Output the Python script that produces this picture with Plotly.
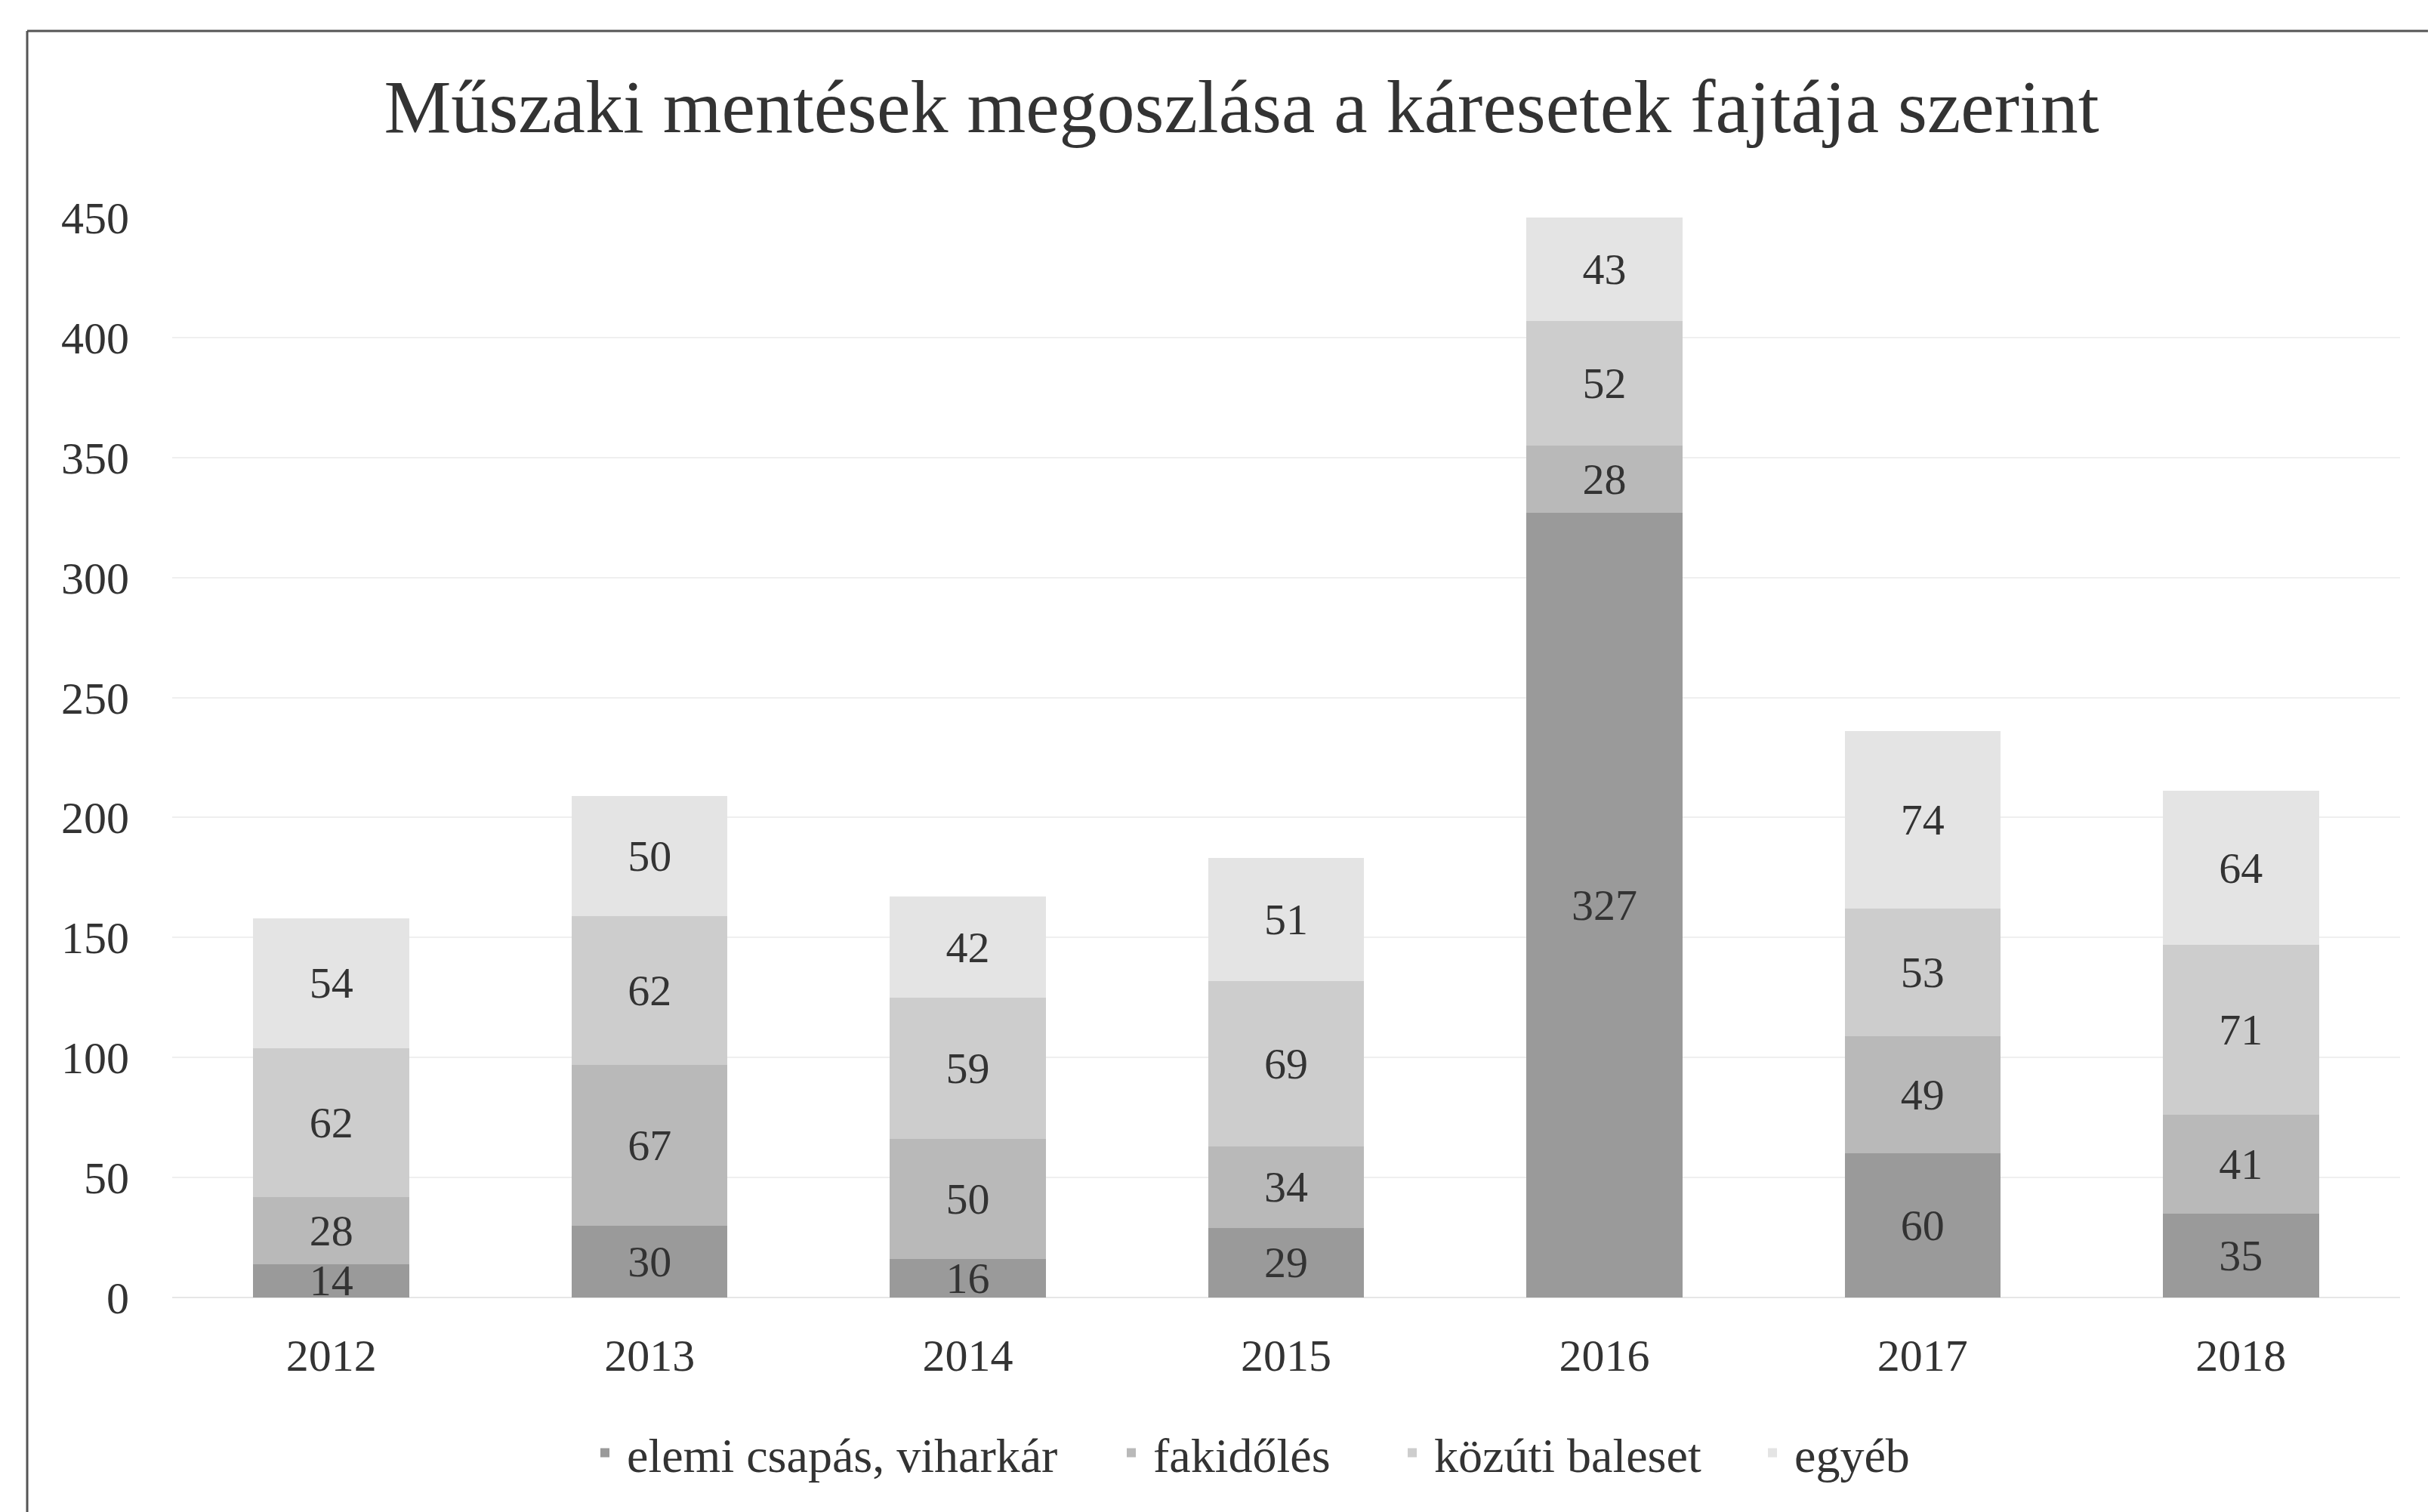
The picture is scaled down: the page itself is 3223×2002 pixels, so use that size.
import plotly.graph_objects as go

years = ["2012", "2013", "2014", "2015", "2016", "2017", "2018"]
elemi = [14, 30, 16, 29, 327, 60, 35]
fakidoles = [28, 67, 50, 34, 28, 49, 41]
kozuti = [62, 62, 59, 69, 52, 53, 71]
egyeb = [54, 50, 42, 51, 43, 74, 64]
series_names = ["elemi csapás, viharkár", "fakidőlés", "közúti baleset", "egyéb"]
y_ticks = [0, 50, 100, 150, 200, 250, 300, 350, 400, 450]

colors = ["#9a9a9a", "#b9b9b9", "#cdcdcd", "#e4e4e4"]
FONT = "Liberation Serif"
W, H = 3223, 2002
L, R, T, B = 220, 53, 280, 292
legend_ids = ["legend", "legend2", "legend3", "legend4"]
legend_x = [764, 1461, 1833, 2310]

fig = go.Figure()
for name, vals, col, lid in zip(series_names, [elemi, fakidoles, kozuti, egyeb], colors, legend_ids):
    fig.add_trace(go.Bar(
        x=years, y=vals, name=name, legend=lid,
        marker=dict(color=col, line=dict(width=0)),
        text=[str(v) for v in vals],
        textposition="inside", insidetextanchor="middle", textangle=0,
        constraintext="none",
        textfont=dict(family=FONT, size=58, color="#333333"),
    ))

pw = W - L - R
ph = H - T - B
fig.add_shape(type="line", xref="paper", yref="paper",
              x0=(28 - L) / pw, x1=(28 - L) / pw, y0=(H - B - 33) / ph, y1=-(B + 10) / ph,
              line=dict(color="#555555", width=3))
fig.add_shape(type="line", xref="paper", yref="paper",
              x0=(28 - L) / pw, x1=(W + 10 - L) / pw, y0=(H - B - 33) / ph, y1=(H - B - 33) / ph,
              line=dict(color="#555555", width=3))

legend_common = dict(orientation="h", xanchor="left", xref="container", yref="container",
                     y=1 - 1916 / H, yanchor="middle",
                     font=dict(family=FONT, size=64, color="#333333"),
                     itemwidth=48, itemclick=False, bgcolor="rgba(0,0,0,0)")
legend_layout = {}
for lid, lx in zip(legend_ids, legend_x):
    legend_layout[lid] = dict(x=lx / W, **legend_common)

fig.update_layout(
    width=W, height=H,
    margin=dict(l=L, r=R, t=T, b=B),
    barmode="stack", bargap=0.51,
    paper_bgcolor="white", plot_bgcolor="white",
    font=dict(family=FONT, color="#333333"),
    title=dict(text="Műszaki mentések megoszlása a káresetek fajtája szerint",
               font=dict(family=FONT, size=100, color="#333333"),
               x=1636 / W, xref="container", xanchor="center",
               y=1 - 132 / H, yref="container", yanchor="middle"),
    xaxis=dict(showgrid=False, showline=False, ticks="",
               tickfont=dict(family=FONT, size=60, color="#333333"),
               ticklabelstandoff=36),
    yaxis=dict(range=[0, 450], tickvals=y_ticks, showgrid=True,
               gridcolor="#efefef", gridwidth=2, zeroline=True,
               zerolinecolor="#e6e6e6", zerolinewidth=2, showline=False,
               tickfont=dict(family=FONT, size=60, color="#333333"),
               ticklabelstandoff=56),
    showlegend=True,
    **legend_layout,
)

fig.write_html("out.html")
